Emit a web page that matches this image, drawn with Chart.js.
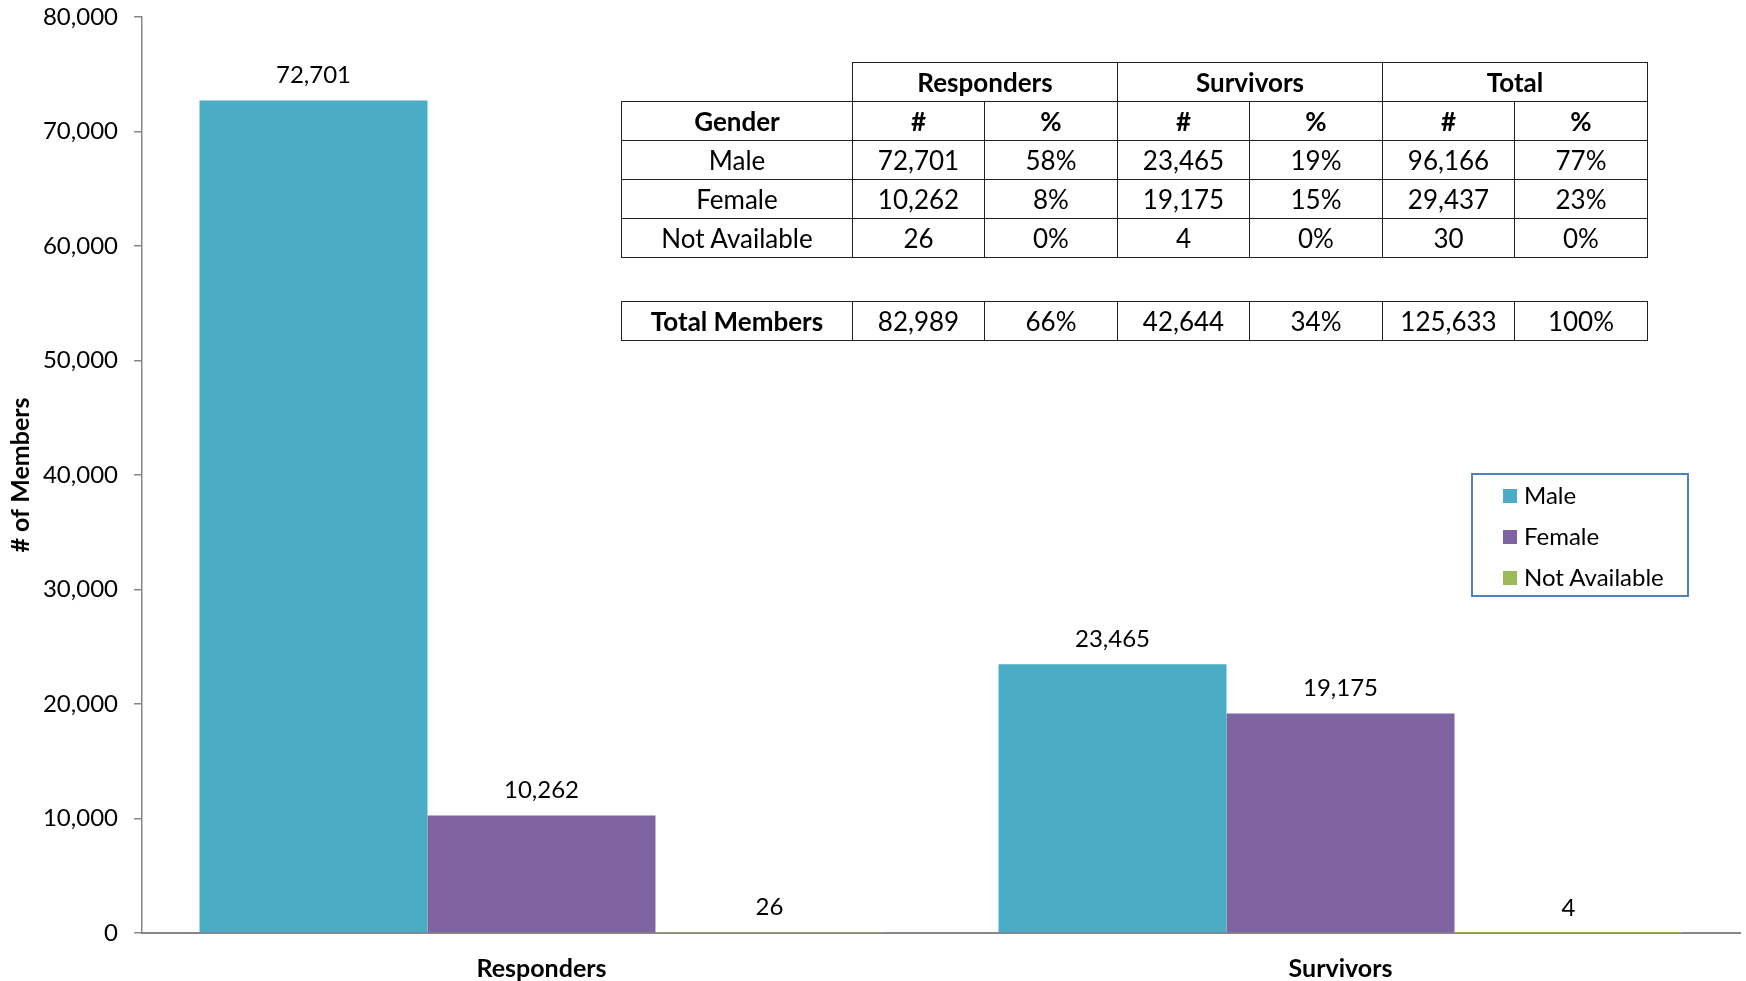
<!DOCTYPE html>
<html>
<head>
<meta charset="utf-8">
<script src="https://cdn.jsdelivr.net/npm/chart.js@4.4.1/dist/chart.umd.min.js"></script>
<style>
    body { margin: 0; background: #fff; font-family: Lato, 'Open Sans', sans-serif; }
    #wrap { position: relative; width: 1746px; height: 981px; }
    .stats { position: absolute; border-collapse: collapse; font-size: 26px; color: #000; }
    .stats td, .stats th { border: 1.5px solid #222; text-align: center; padding: 0; height: 38px; line-height: 36px; }
    .stats th { font-weight: bold; }
    .stats td.blank { border: none; }
    #legend { position: absolute; left: 1471px; top: 473px; width: 214px; height: 120px;
              border: 2px solid #4F81BD; font-size: 24px; color: #000; }
    #legend div { position: absolute; left: 30px; line-height: 28px; }
    #legend span.sw { display: inline-block; width: 14px; height: 14px; margin-right: 7px; vertical-align: 1px; }
</style>
</head>
<body>
<div id="wrap">
    <canvas id="genderChart" width="1746" height="981"></canvas>
    <table class="stats" id="statsTable" style="left:621px; top:62px;"></table>
    <table class="stats" id="totalTable" style="left:621px; top:301px;"></table>
    <div id="legend"></div>
</div>
<script>
// Chart data
const categories = ['Responders', 'Survivors'];
const maleValues = [72701, 23465];
const femaleValues = [10262, 19175];
const notAvailableValues = [26, 4];

// Table data
const tableGroups = ['Responders', 'Survivors', 'Total'];
const genders = ['Male', 'Female', 'Not Available'];
const responderCounts = [72701, 10262, 26];
const responderPct = ['58%', '8%', '0%'];
const survivorCounts = [23465, 19175, 4];
const survivorPct = ['19%', '15%', '0%'];
const totalCounts = [96166, 29437, 30];
const totalPct = ['77%', '23%', '0%'];
const totalMembers = [82989, '66%', 42644, '34%', 125633, '100%'];

const fmt = v => typeof v === 'number' ? v.toLocaleString('en-US') : v;
const FONT = 'Lato';

// Build the summary tables
const colWidths = [231, 132, 133, 132, 133, 132, 133];
function colgroup() {
    return '<colgroup>' + colWidths.map(w => `<col style="width:${w}px">`).join('') + '</colgroup>';
}
let html = colgroup();
html += '<tr><td class="blank"></td>' + tableGroups.map(g => `<th colspan="2">${g}</th>`).join('') + '</tr>';
html += '<tr><th>Gender</th>' + tableGroups.map(() => '<th>#</th><th>%</th>').join('') + '</tr>';
genders.forEach((g, i) => {
    const cells = [responderCounts[i], responderPct[i], survivorCounts[i], survivorPct[i], totalCounts[i], totalPct[i]];
    html += `<tr><td>${g}</td>` + cells.map(c => `<td>${fmt(c)}</td>`).join('') + '</tr>';
});
document.getElementById('statsTable').innerHTML = html;
document.getElementById('totalTable').innerHTML = colgroup() +
    '<tr><th>Total Members</th>' + totalMembers.map(c => `<td>${fmt(c)}</td>`).join('') + '</tr>';

// Value labels above each bar
const valueLabels = {
    id: 'valueLabels',
    afterDatasetsDraw(chart) {
        const ctx = chart.ctx;
        ctx.save();
        ctx.font = `24px ${FONT}`;
        ctx.fillStyle = '#000';
        ctx.textAlign = 'center';
        ctx.textBaseline = 'middle';
        chart.data.datasets.forEach((ds, di) => {
            chart.getDatasetMeta(di).data.forEach((bar, i) => {
                ctx.fillText(fmt(ds.data[i]), bar.x, bar.y - 25);
            });
        });
        ctx.restore();
    }
};

const ctx = document.getElementById('genderChart').getContext('2d');
const chart = new Chart(ctx, {
    type: 'bar',
    data: {
        labels: categories,
        datasets: [
            { label: 'Male', data: maleValues, backgroundColor: '#4BACC6' },
            { label: 'Female', data: femaleValues, backgroundColor: '#8064A2' },
            { label: 'Not Available', data: notAvailableValues, backgroundColor: '#9BBB59' }
        ]
    },
    options: {
        responsive: false,
        animation: false,
        datasets: { bar: { barPercentage: 1, categoryPercentage: 0.856 } },
        layout: { padding: { top: 17, right: 6, left: 0, bottom: 0 } },
        plugins: { legend: { display: false }, tooltip: { enabled: false } },
        scales: {
            x: {
                grid: { display: false },
                border: { color: '#868686', width: 2 },
                ticks: { color: '#000', font: { family: FONT, size: 25, weight: 'bold' }, padding: 13 },
                afterFit: s => { s.height = 48; }
            },
            y: {
                min: 0,
                max: 80000,
                ticks: { stepSize: 10000, color: '#000', font: { family: FONT, size: 24 }, padding: 16, callback: v => fmt(v) },
                grid: { drawOnChartArea: false, drawTicks: true, tickLength: 8, color: '#868686', lineWidth: 1.5 },
                border: { color: '#868686', width: 1.5 },
                title: { display: true, text: '# of Members', color: '#000', font: { family: FONT, size: 25, weight: 'bold' }, padding: { top: 6, bottom: 0 } },
                afterFit: s => { s.width = 142; s.paddingTop = 0; s.paddingBottom = 0; }
            }
        }
    },
    plugins: [valueLabels]
});

// Legend
const legend = document.getElementById('legend');
chart.data.datasets.forEach((ds, i) => {
    const item = document.createElement('div');
    item.style.top = (6 + i * 41) + 'px';
    item.innerHTML = `<span class="sw" style="background:${ds.backgroundColor}"></span>${ds.label}`;
    legend.appendChild(item);
});
</script>
</body>
</html>
